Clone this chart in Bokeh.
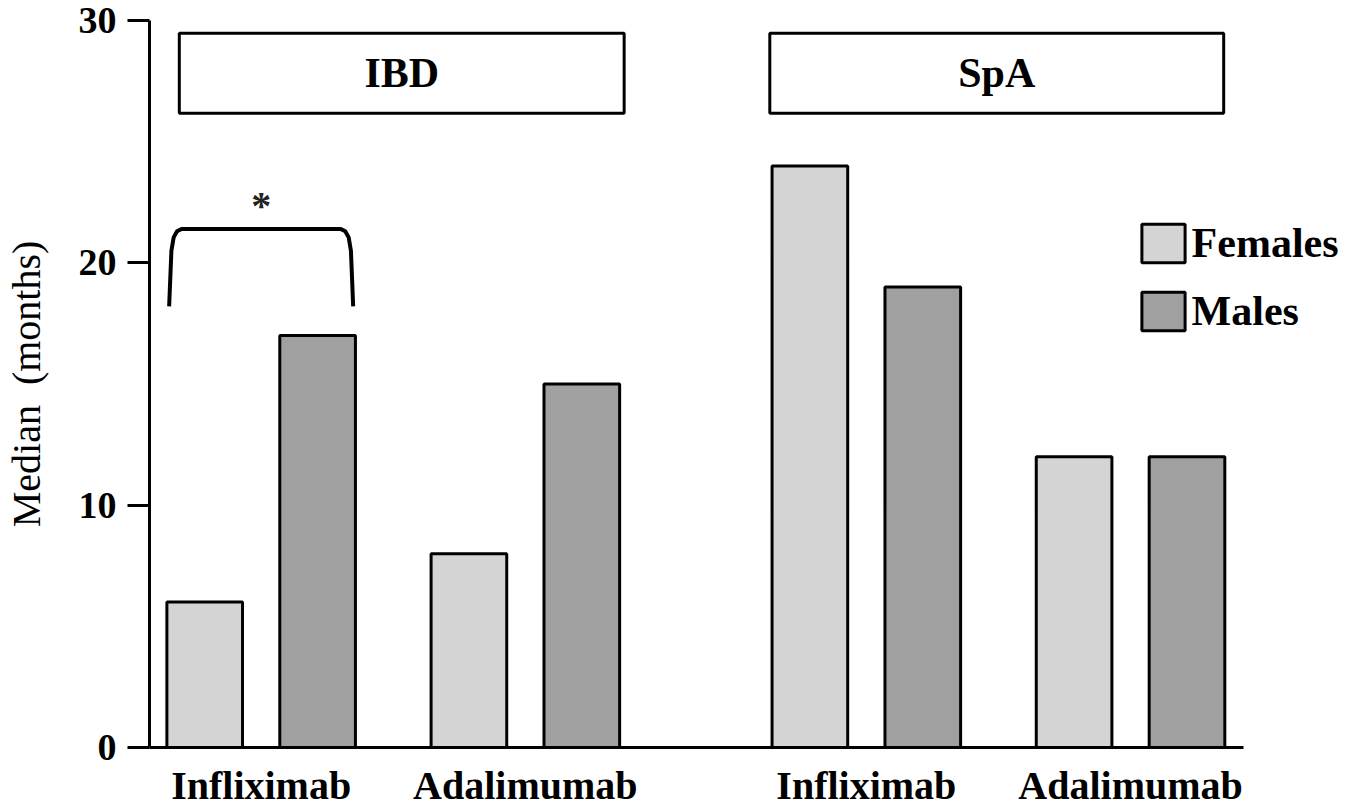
from bokeh.plotting import figure
from bokeh.models import Range1d, FixedTicker, Legend, LegendItem
from bokeh.core.properties import value
from bokeh.embed import file_html
from bokeh.resources import INLINE

# ---------------- data ----------------
groups = ["IBD", "SpA"]
drugs = ["Infliximab", "Adalimumab"]
series = ["Females", "Males"]
females = [6, 8, 24, 12]      # IBD-Inf, IBD-Ada, SpA-Inf, SpA-Ada
males = [17, 15, 19, 12]
y_ticks = [0, 10, 20, 30]
y_label = "Median\u00a0\u00a0(months)"
sig_text = "*"
bracket_low = 18.2
bracket_high = 21.4

# ---------------- layout (x units: 100 = distance between paired bars) ----------------
bar_w = 67
dodge = 50
pair_gap = 234
group_gap = 302
box_bottom, box_top = 26.17, 29.47
box_pad_left = [11, -2]
box_pad_right = [4, -1]
px_per_unit = 1.13

W, H = 1348, 810
BL, BT, BB, BR = 148, 20, 63, 0

FONT = "Liberation Serif"
C_F = "#d4d4d4"
C_M = "#a0a0a0"

centers = []
c = 0
for gi in range(len(groups)):
    for di in range(len(drugs)):
        centers.append(c)
        c += pair_gap if di < len(drugs) - 1 else group_gap

xf = [cc - dodge for cc in centers]
xm = [cc + dodge for cc in centers]
left_edge = xf[0] - bar_w / 2
right_edge = xm[-1] + bar_w / 2
x_start = left_edge - 15.4
x_axis_end = right_edge + 16.6
x_end = x_start + (W - BL - BR) / px_per_unit

p = figure(width=W, height=H, output_backend="svg", toolbar_location=None,
           x_range=Range1d(x_start, x_end),
           y_range=Range1d(0, 30),
           min_border_left=BL, min_border_right=BR,
           min_border_top=BT, min_border_bottom=BB)
p.outline_line_color = None
p.xgrid.visible = False
p.ygrid.visible = False
p.background_fill_color = "white"
p.border_fill_color = "white"

rF = p.vbar(x=xf, top=females, bottom=0, width=bar_w, fill_color=C_F,
            line_color="black", line_width=3)
rM = p.vbar(x=xm, top=males, bottom=0, width=bar_w, fill_color=C_M,
            line_color="black", line_width=3)

# group header boxes
nd = len(drugs)
bl, br, bc = [], [], []
for gi in range(len(groups)):
    l = xf[gi * nd] - bar_w / 2 + box_pad_left[gi]
    r = xm[gi * nd + nd - 1] + bar_w / 2 + box_pad_right[gi]
    bl.append(l)
    br.append(r)
    bc.append((l + r) / 2)
p.quad(left=bl, right=br, bottom=[box_bottom] * len(groups), top=[box_top] * len(groups),
       fill_color="white", line_color="black", line_width=3)
p.text(x=bc, y=[(box_bottom + box_top) / 2] * len(groups), text=groups,
       text_font=value(FONT), text_font_size="42px", text_font_style="bold",
       text_align="center", text_baseline="middle", text_color="black")

# significance bracket on IBD Infliximab
L = xf[0] - bar_w / 2
R = xm[0] + bar_w / 2
bx = [L + 2, L + 4, L + 6, L + 9, L + 13, R - 13, R - 9, R - 6, R - 4, R - 2]
bdy = [0, 2.3, 2.85, 3.1, 3.2, 3.2, 3.1, 2.85, 2.3, 0]
by = [bracket_low + d * (bracket_high - bracket_low) / 3.2 for d in bdy]
p.line(x=bx, y=by, line_color="black", line_width=4)
p.text(x=[centers[0]], y=[bracket_high + 0.95], text=[sig_text],
       text_font=value(FONT), text_font_size="40px", text_font_style="bold",
       text_align="center", text_baseline="alphabetic", text_color="#222222")

# axes
ya = p.yaxis[0]
ya.ticker = FixedTicker(ticks=y_ticks)
ya.axis_line_width = 3
ya.major_tick_line_width = 3
ya.major_tick_out = 22
ya.major_tick_in = 0
ya.minor_tick_line_color = None
ya.major_label_text_font = FONT
ya.major_label_text_font_size = "38px"
ya.major_label_text_font_style = "bold"
ya.major_label_text_color = "black"
ya.major_label_standoff = 11
ya.axis_label = y_label
ya.axis_label_text_font = FONT
ya.axis_label_text_font_size = "40px"
ya.axis_label_text_font_style = "normal"
ya.axis_label_text_color = "black"
ya.axis_label_standoff = 27

pair_centers = [int(round(cc)) for cc in centers]
xa = p.xaxis[0]
xa.ticker = FixedTicker(ticks=pair_centers)
xa.major_label_overrides = {pc: drugs[i % nd] for i, pc in enumerate(pair_centers)}
xa.bounds = (x_start, x_axis_end)
xa.axis_line_width = 3
xa.major_tick_out = 0
xa.major_tick_in = 0
xa.major_tick_line_color = None
xa.minor_tick_line_color = None
xa.major_label_text_font = FONT
xa.major_label_text_font_size = "40px"
xa.major_label_text_font_style = "bold"
xa.major_label_text_color = "black"
xa.major_label_standoff = 15

legend = Legend(items=[LegendItem(label=series[0], renderers=[rF]),
                       LegendItem(label=series[1], renderers=[rM])],
                location=(986.6, 411.8), orientation="vertical")
legend.border_line_color = None
legend.background_fill_alpha = 0
legend.padding = 0
legend.margin = 0
legend.spacing = 20
legend.glyph_width = 54
legend.glyph_height = 48
legend.label_standoff = 2
legend.label_text_font = FONT
legend.label_text_font_size = "42px"
legend.label_text_font_style = "bold"
legend.label_text_color = "black"
p.add_layout(legend)

open("out.html", "w").write(file_html(p, INLINE))
